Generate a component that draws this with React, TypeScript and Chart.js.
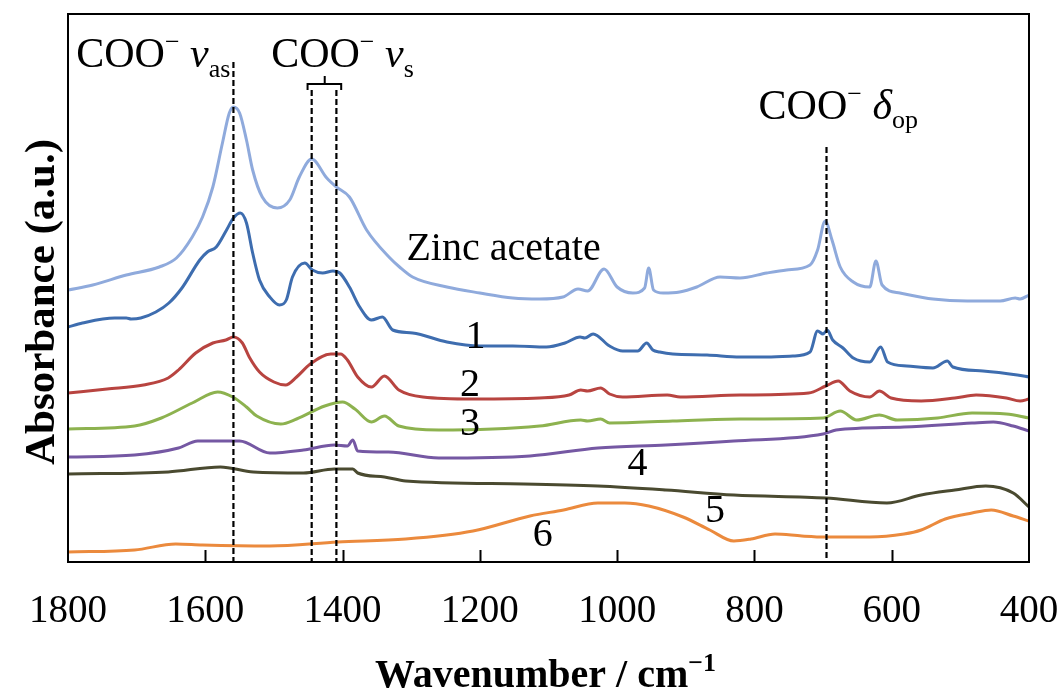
import React, { useEffect, useRef } from "react";
import { Chart, registerables } from "chart.js";

Chart.register(...registerables);

// ---------- data (wavenumber cm^-1, absorbance a.u. with vertical offsets) ----------
const zincWn = [1800, 1764, 1715, 1667, 1642, 1619, 1604, 1589, 1575, 1565, 1559, 1550, 1540, 1531, 1517, 1495, 1477, 1463, 1445, 1423, 1409, 1390, 1365, 1331, 1317, 1298, 1248, 1200, 1152, 1113, 1079, 1057, 1043, 1019, 1000, 977, 960, 954, 947, 933, 909, 884, 850, 821, 782, 753, 719, 708, 697, 687, 675, 656, 632, 623, 614, 588, 540, 490, 442, 420, 413, 400];
const zincAbs = [2.72, 2.77, 2.87, 2.95, 3.04, 3.25, 3.45, 3.75, 4.19, 4.49, 4.55, 4.49, 4.22, 3.92, 3.65, 3.54, 3.62, 3.85, 4.03, 3.84, 3.75, 3.65, 3.32, 3.04, 2.95, 2.85, 2.75, 2.69, 2.64, 2.63, 2.65, 2.73, 2.71, 2.93, 2.75, 2.69, 2.74, 2.94, 2.72, 2.69, 2.70, 2.75, 2.85, 2.84, 2.89, 2.92, 2.97, 3.12, 3.41, 3.22, 2.95, 2.80, 2.75, 3.01, 2.77, 2.69, 2.63, 2.61, 2.61, 2.64, 2.63, 2.67];

const s1Wn = [1800, 1779, 1732, 1715, 1708, 1694, 1672, 1653, 1634, 1608, 1597, 1584, 1569, 1559, 1549, 1540, 1531, 1521, 1506, 1492, 1482, 1473, 1455, 1444, 1429, 1414, 1404, 1390, 1375, 1358, 1342, 1327, 1298, 1248, 1200, 1152, 1103, 1076, 1054, 1047, 1035, 1011, 992, 970, 957, 948, 938, 919, 869, 821, 782, 744, 719, 708, 700, 694, 686, 671, 656, 632, 616, 606, 578, 540, 519, 511, 467, 417, 400];
const s1Abs = [2.35, 2.39, 2.44, 2.44, 2.43, 2.44, 2.50, 2.59, 2.74, 3.02, 3.10, 3.15, 3.32, 3.44, 3.49, 3.39, 3.09, 2.82, 2.65, 2.57, 2.62, 2.85, 2.99, 2.92, 2.89, 2.91, 2.89, 2.75, 2.55, 2.42, 2.45, 2.32, 2.29, 2.20, 2.16, 2.16, 2.15, 2.19, 2.25, 2.24, 2.28, 2.16, 2.11, 2.11, 2.19, 2.12, 2.10, 2.08, 2.07, 2.05, 2.05, 2.06, 2.10, 2.31, 2.28, 2.32, 2.22, 2.14, 2.04, 2.00, 2.15, 2.00, 1.96, 1.94, 2.01, 1.95, 1.91, 1.87, 1.85];

const s2Wn = [1800, 1743, 1690, 1654, 1639, 1614, 1589, 1570, 1559, 1546, 1536, 1521, 1500, 1483, 1467, 1447, 1417, 1403, 1393, 1378, 1358, 1339, 1318, 1283, 1210, 1113, 1070, 1053, 1043, 1024, 1011, 992, 927, 908, 821, 721, 696, 678, 661, 632, 618, 601, 557, 508, 477, 433, 413, 400];
const s2Abs = [1.69, 1.73, 1.77, 1.84, 1.92, 2.09, 2.19, 2.22, 2.25, 2.19, 2.05, 1.90, 1.80, 1.77, 1.85, 1.98, 2.08, 2.08, 2.02, 1.85, 1.75, 1.86, 1.72, 1.65, 1.63, 1.64, 1.67, 1.72, 1.71, 1.74, 1.68, 1.65, 1.67, 1.65, 1.67, 1.69, 1.76, 1.81, 1.71, 1.65, 1.71, 1.64, 1.61, 1.64, 1.67, 1.64, 1.61, 1.63];

const s3Wn = [1800, 1703, 1664, 1619, 1582, 1560, 1540, 1525, 1490, 1467, 1426, 1400, 1382, 1358, 1339, 1318, 1260, 1113, 1053, 1043, 1024, 1011, 919, 821, 700, 675, 651, 618, 592, 533, 483, 433, 400];
const s3Abs = [1.33, 1.36, 1.44, 1.59, 1.70, 1.65, 1.55, 1.46, 1.38, 1.43, 1.56, 1.60, 1.53, 1.40, 1.46, 1.36, 1.32, 1.36, 1.42, 1.41, 1.43, 1.39, 1.41, 1.43, 1.44, 1.51, 1.42, 1.47, 1.42, 1.44, 1.49, 1.48, 1.44];

const s4Wn = [1800, 1703, 1639, 1611, 1579, 1550, 1506, 1457, 1412, 1393, 1385, 1378, 1333, 1260, 1127, 1028, 929, 830, 700, 681, 582, 483, 452, 423, 400];
const s4Abs = [1.05, 1.07, 1.14, 1.21, 1.21, 1.21, 1.09, 1.12, 1.17, 1.16, 1.22, 1.11, 1.10, 1.04, 1.06, 1.14, 1.17, 1.21, 1.28, 1.32, 1.35, 1.39, 1.40, 1.36, 1.31];

const s5Wn = [1800, 1654, 1578, 1530, 1457, 1412, 1385, 1378, 1339, 1308, 1136, 1028, 929, 830, 696, 607, 557, 508, 463, 423, 400];
const s5Abs = [0.88, 0.90, 0.95, 0.90, 0.89, 0.93, 0.93, 0.89, 0.85, 0.81, 0.78, 0.76, 0.72, 0.67, 0.64, 0.59, 0.67, 0.72, 0.76, 0.69, 0.55];

const s6Wn = [1800, 1703, 1643, 1604, 1506, 1407, 1308, 1210, 1127, 1078, 1028, 989, 954, 904, 865, 830, 805, 770, 731, 696, 632, 582, 557, 522, 483, 455, 423, 400];
const s6Abs = [0.10, 0.12, 0.18, 0.17, 0.16, 0.20, 0.23, 0.31, 0.46, 0.52, 0.59, 0.59, 0.56, 0.45, 0.32, 0.21, 0.23, 0.28, 0.26, 0.25, 0.25, 0.28, 0.32, 0.43, 0.49, 0.52, 0.46, 0.41];

const xTickValues = [400, 600, 800, 1000, 1200, 1400, 1600, 1800];

// band markers (wavenumber, top of dashed line in a.u.)
const markerWn = [1559, 1445, 1409, 695];
const markerTop = [5.0, 4.72, 4.72, 4.15];

// curve labels
const curveLabelText = ["Zinc acetate", "1", "2", "3", "4", "5", "6"];
const curveLabelWn = [1307, 1221, 1229, 1229, 985, 872, 1123];
const curveLabelAbs = [3.02, 2.14, 1.66, 1.27, 0.87, 0.40, 0.16];

const SERIF = '"Liberation Serif", "Times New Roman", serif';

const seriesDefs = [
  { label: "Zinc acetate", wn: zincWn, abs: zincAbs, color: "#8FAADC" },
  { label: "1", wn: s1Wn, abs: s1Abs, color: "#3E6DAF" },
  { label: "2", wn: s2Wn, abs: s2Abs, color: "#B84440" },
  { label: "3", wn: s3Wn, abs: s3Abs, color: "#8DB24F" },
  { label: "4", wn: s4Wn, abs: s4Abs, color: "#7558A3" },
  { label: "5", wn: s5Wn, abs: s5Abs, color: "#4A4A30" },
  { label: "6", wn: s6Wn, abs: s6Abs, color: "#EB8A3D" },
];

type Part = { t: string; size: number; italic?: boolean; bold?: boolean; dy?: number };

function fontOf(p: Part) {
  return `${p.italic ? "italic " : ""}${p.bold ? "bold " : ""}${p.size}px ${SERIF}`;
}

function richWidth(ctx: CanvasRenderingContext2D, parts: Part[]) {
  let w = 0;
  for (const p of parts) {
    ctx.font = fontOf(p);
    w += ctx.measureText(p.t).width;
  }
  return w;
}

function drawRich(ctx: CanvasRenderingContext2D, x: number, y: number, parts: Part[]) {
  let cx = x;
  ctx.textAlign = "left";
  ctx.textBaseline = "alphabetic";
  for (const p of parts) {
    ctx.font = fontOf(p);
    ctx.fillText(p.t, cx, y + (p.dy || 0));
    cx += ctx.measureText(p.t).width;
  }
}

const annotPlugin = {
  id: "annot",
  afterDatasetsDraw(chart: any) {
    const { ctx, chartArea: a } = chart;
    const xs = chart.scales.x;
    const ys = chart.scales.y;
    ctx.save();
    ctx.fillStyle = "#000";
    ctx.strokeStyle = "#000";

    // frame
    ctx.lineWidth = 2;
    ctx.strokeRect(a.left, a.top, a.right - a.left, a.bottom - a.top);

    // inward tick marks
    for (const v of xTickValues) {
      if (v === 1800 || v === 400) continue;
      const px = Math.round(xs.getPixelForValue(v)) + 0.5;
      ctx.beginPath();
      ctx.moveTo(px, a.bottom);
      ctx.lineTo(px, a.bottom - 12);
      ctx.stroke();
    }

    // dashed marker lines
    ctx.setLineDash([6, 3]);
    ctx.lineWidth = 2.2;
    markerWn.forEach((w, i) => {
      const px = xs.getPixelForValue(w);
      ctx.beginPath();
      ctx.moveTo(px, ys.getPixelForValue(markerTop[i]));
      ctx.lineTo(px, a.bottom);
      ctx.stroke();
    });
    ctx.setLineDash([]);

    // bracket over the two v_s lines
    const bl = xs.getPixelForValue(1451);
    const br = xs.getPixelForValue(1402);
    const bm = xs.getPixelForValue(1426);
    const by = ys.getPixelForValue(4.78);
    const byEnd = ys.getPixelForValue(4.72);
    const byTop = ys.getPixelForValue(4.86);
    ctx.lineWidth = 2;
    ctx.beginPath();
    ctx.moveTo(bl, byEnd);
    ctx.lineTo(bl, by);
    ctx.lineTo(br, by);
    ctx.lineTo(br, byEnd);
    ctx.moveTo(bm, by);
    ctx.lineTo(bm, byTop);
    ctx.stroke();

    // band labels
    drawRich(ctx, xs.getPixelForValue(1788), ys.getPixelForValue(4.95), [
      { t: "COO", size: 42 },
      { t: "\u2212", size: 26, dy: -17 },
      { t: " ", size: 42 },
      { t: "v", size: 42, italic: true },
      { t: "as", size: 26, dy: 10 },
    ]);
    drawRich(ctx, xs.getPixelForValue(1504), ys.getPixelForValue(4.95), [
      { t: "COO", size: 42 },
      { t: "\u2212", size: 26, dy: -17 },
      { t: " ", size: 42 },
      { t: "v", size: 42, italic: true },
      { t: "s", size: 26, dy: 10 },
    ]);
    drawRich(ctx, xs.getPixelForValue(794), ys.getPixelForValue(4.43), [
      { t: "COO", size: 42 },
      { t: "\u2212", size: 26, dy: -17 },
      { t: " ", size: 42 },
      { t: "\u03B4", size: 42, italic: true },
      { t: "op", size: 26, dy: 9 },
    ]);

    // curve labels
    curveLabelText.forEach((t, i) => {
      drawRich(ctx, xs.getPixelForValue(curveLabelWn[i]), ys.getPixelForValue(curveLabelAbs[i]), [
        { t, size: 40 },
      ]);
    });

    // x title
    const xt: Part[] = [
      { t: "Wavenumber / cm", size: 40, bold: true },
      { t: "\u22121", size: 26, bold: true, dy: -16 },
    ];
    const xw = richWidth(ctx, xt);
    drawRich(ctx, (a.left + a.right) / 2 - 3 - xw / 2, 687, xt);

    // y title
    const yt: Part[] = [{ t: "Absorbance (a.u.)", size: 43, bold: true }];
    const yw = richWidth(ctx, yt);
    ctx.save();
    ctx.translate(54, 302);
    ctx.rotate(-Math.PI / 2);
    drawRich(ctx, -yw / 2, 0, yt);
    ctx.restore();

    ctx.restore();
  },
};

export default function App() {
  const ref = useRef<HTMLCanvasElement>(null);

  useEffect(() => {
    document.body.style.margin = "0";
    if (!ref.current) return;
    const chart = new Chart(ref.current, {
      type: "line",
      data: {
        datasets: seriesDefs.map((s) => ({
          label: s.label,
          data: s.wn.map((w, i) => ({ x: w, y: s.abs[i] })),
          borderColor: s.color,
          backgroundColor: s.color,
          borderWidth: 3,
          pointRadius: 0,
          fill: false,
          cubicInterpolationMode: "monotone" as const,
        })),
      },
      options: {
        animation: false,
        responsive: false,
        layout: { padding: { left: 68, right: 34, top: 14, bottom: 0 } },
        plugins: { legend: { display: false }, tooltip: { enabled: false } },
        scales: {
          x: {
            type: "linear",
            reverse: true,
            min: 400,
            max: 1800,
            afterBuildTicks: (scale: any) => {
              scale.ticks = xTickValues.map((v) => ({ value: v }));
            },
            ticks: {
              font: { family: SERIF, size: 39 },
              color: "#000",
              padding: 26,
              maxRotation: 0,
              autoSkip: false,
              callback: (v: any) => String(v),
            },
            grid: { display: false, drawTicks: false, tickLength: 0 },
            border: { display: false },
            afterFit: (scale: any) => {
              scale.height = 131;
              scale.paddingLeft = 0;
              scale.paddingRight = 0;
            },
          },
          y: { display: false, min: 0, max: 5.48 },
        },
      },
      plugins: [annotPlugin],
    });
    return () => chart.destroy();
  }, []);

  return <canvas ref={ref} width={1063} height={693} style={{ display: "block" }} />;
}
